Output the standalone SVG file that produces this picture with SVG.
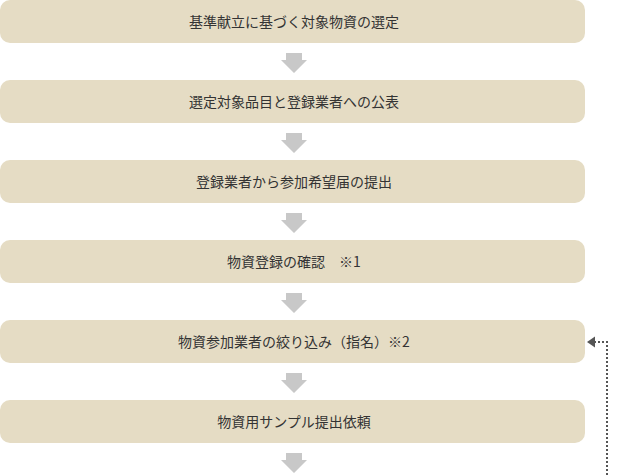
<svg xmlns="http://www.w3.org/2000/svg" width="620" height="475" viewBox="0 0 620 475">
<style>
.box{fill:#e5dcc4}
.t{font-family:"Noto Sans CJK JP","Noto Sans",sans-serif;font-size:14px;fill:#333;text-anchor:middle;dominant-baseline:central}
.arr{fill:#c8c8c8}
</style>
<defs>
<polygon id="down" class="arr" points="286,53 302,53 302,60 307,60 294,73 281,60 286,60"/>
</defs>
<rect width="620" height="475" fill="#fff"/>
<g id="connectors">
<use href="#down" y="0"/>
<use href="#down" y="80"/>
<use href="#down" y="160"/>
<use href="#down" y="240"/>
<use href="#down" y="320"/>
<use href="#down" y="400"/>
<polyline points="607,475 607,342 595,342" fill="none" stroke="#555" stroke-width="2" stroke-dasharray="2,2"/>
<polygon points="587,342 595,336.5 595,347.5" fill="#555"/>
</g>
<g id="n1"><rect class="box" x="0" y="0" width="585" height="43" rx="10"/><text class="t" x="294" y="21">基準献立に基づく対象物資の選定</text></g>
<g id="n2"><rect class="box" x="0" y="80" width="585" height="43" rx="10"/><text class="t" x="294" y="101">選定対象品目と登録業者への公表</text></g>
<g id="n3"><rect class="box" x="0" y="160" width="585" height="43" rx="10"/><text class="t" x="294" y="181">登録業者から参加希望届の提出</text></g>
<g id="n4"><rect class="box" x="0" y="240" width="585" height="43" rx="10"/><text class="t" x="294" y="261">物資登録の確認　※1</text></g>
<g id="n5"><rect class="box" x="0" y="320" width="585" height="43" rx="10"/><text class="t" x="294" y="341">物資参加業者の絞り込み（指名）※2</text></g>
<g id="n6"><rect class="box" x="0" y="400" width="585" height="43" rx="10"/><text class="t" x="294" y="421">物資用サンプル提出依頼</text></g>
</svg>
